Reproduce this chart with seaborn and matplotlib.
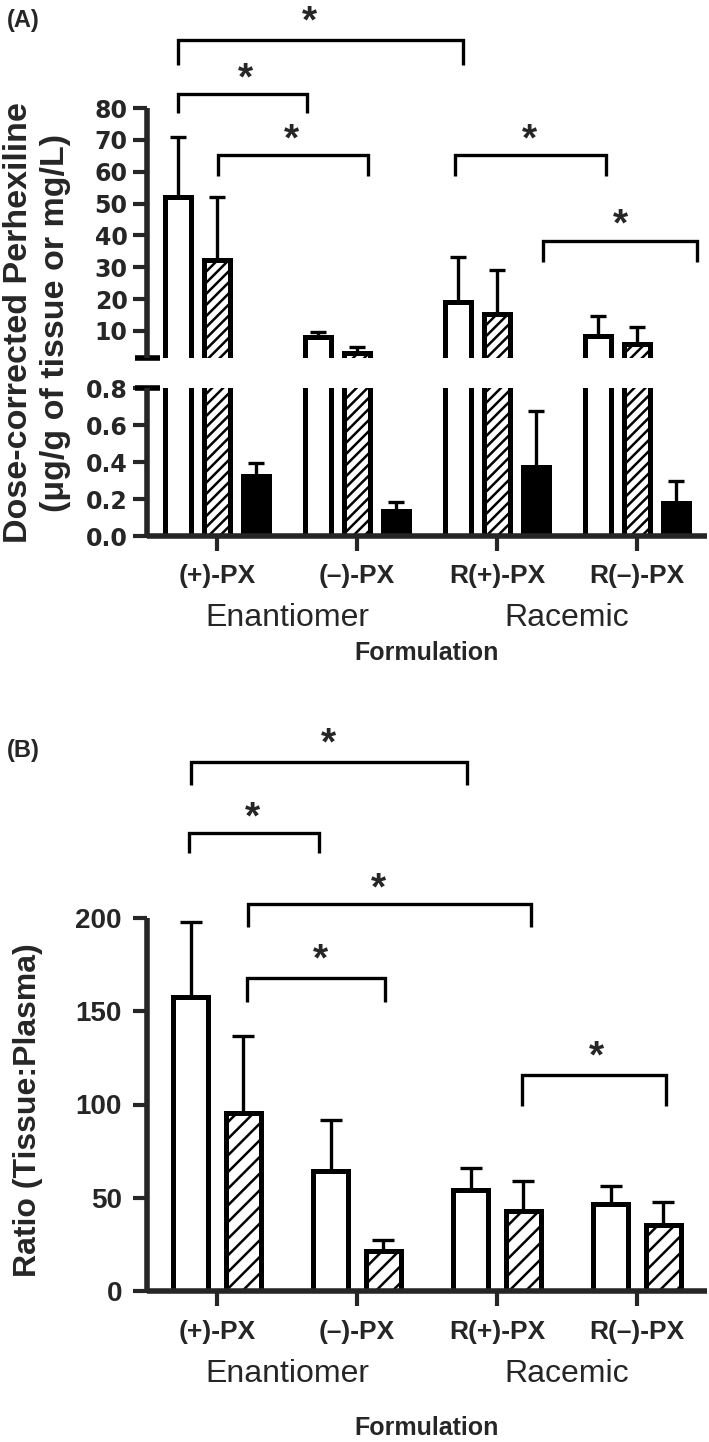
import numpy as np
import pandas as pd
import matplotlib
matplotlib.use("Agg")
import matplotlib.pyplot as plt
import matplotlib.transforms as mtransforms
import seaborn as sns

# ---------------- data ----------------
groups = ["(+)-PX", "(\u2013)-PX", "R(+)-PX", "R(\u2013)-PX"]
formulations = ["Enantiomer", "Racemic"]
series_a = ["Tissue 1", "Tissue 2", "Plasma"]
series_b = ["Tissue 1", "Tissue 2"]

# Panel A: dose-corrected perhexiline (mean, upper SD)
a_t1_mean = [52.1, 8.2, 19.1, 8.3]
a_t1_sd = [18.8, 1.6, 14.2, 6.4]
a_t2_mean = [32.3, 3.0, 15.2, 5.9]
a_t2_sd = [19.8, 1.9, 13.8, 5.3]
a_pl_mean = [0.324, 0.135, 0.373, 0.178]
a_pl_sd = [0.071, 0.049, 0.303, 0.119]

# Panel B: tissue:plasma ratio
b_t1_mean = [157.6, 64.3, 54.2, 46.6]
b_t1_sd = [40.4, 27.4, 11.8, 9.7]
b_t2_mean = [95.4, 21.4, 42.9, 35.4]
b_t2_sd = [41.3, 5.9, 16.1, 12.3]

a_top_ticks = [10, 20, 30, 40, 50, 60, 70, 80]
a_low_ticks = [0.0, 0.2, 0.4, 0.6, 0.8]
a_low_labels = ["0.0", "0.2", "0.4", "0.6", "0.8"]
b_ticks = [0, 50, 100, 150, 200]

# significance brackets: (x_left, x_right, y_bar, y_leg_end, x_star, y_star)
a_brackets = [
    (-0.279, 1.757, 101.5, 93.6, 0.664, 110.9),
    (-0.279, 0.643, 84.3, 78.3, 0.200, 93.0),
    (0.007, 1.076, 65.3, 58.8, 0.533, 73.8),
    (1.700, 2.781, 65.3, 58.8, 2.231, 73.8),
    (2.327, 3.426, 38.2, 31.7, 2.879, 47.0),
]
b_brackets = [
    (-0.186, 1.788, 283.6, 271.3, 0.793, 299.7),
    (-0.200, 0.729, 245.6, 234.9, 0.250, 260.1),
    (0.221, 2.243, 207.5, 195.2, 1.150, 222.0),
    (0.214, 1.200, 167.8, 155.0, 0.736, 183.9),
    (2.180, 3.207, 115.8, 99.2, 2.714, 131.9),
]

# ---------------- style ----------------
sns.set_style("ticks")
plt.rcParams["font.family"] = ["Liberation Sans", "DejaVu Sans"]
plt.rcParams["hatch.linewidth"] = 1.8
plt.rcParams["hatch.color"] = "black"

EDGE_LW = 3.6
SPINE_LW = 4.0
ERR_LW = 2.4
BR_LW = 2.4
STAR_FS = 28

W, H = 709, 1442
fig = plt.figure(figsize=(W / 100, H / 100), dpi=100)


def fax(left, top, right, bottom):
    return fig.add_axes([left / W, 1 - bottom / H, (right - left) / W, (bottom - top) / H])


ax_at = fax(147, 108, 707, 358)
ax_al = fax(147, 388, 707, 536)
ax_b = fax(147, 918, 707, 1291)

df_a = pd.DataFrame({
    "Formulation": groups * 3,
    "Series": np.repeat(series_a, len(groups)),
    "Value": a_t1_mean + a_t2_mean + a_pl_mean,
})
df_b = pd.DataFrame({
    "Formulation": groups * 2,
    "Series": np.repeat(series_b, len(groups)),
    "Value": b_t1_mean + b_t2_mean,
})


def draw_bars(ax, df, hue_order, colors, hatches, width, gap):
    sns.barplot(data=df, x="Formulation", y="Value", hue="Series", order=groups,
                hue_order=hue_order, palette=colors, saturation=1,
                edgecolor="black", linewidth=EDGE_LW, width=width, gap=gap,
                errorbar=None, legend=False, ax=ax)
    for cont, h in zip(ax.containers, hatches):
        for p in cont:
            p.set_hatch(h)
            p.set_edgecolor("black")
            p.set_joinstyle("miter")


def draw_err(ax, cont, sd, capsize):
    xs = [p.get_x() + p.get_width() / 2 for p in cont]
    ys = [p.get_height() for p in cont]
    ax.errorbar(xs, ys, yerr=[np.zeros(len(sd)), sd], fmt="none", ecolor="black",
                elinewidth=ERR_LW, capsize=capsize, capthick=ERR_LW, zorder=3)


def draw_brackets(ax, brackets):
    for x1, x2, yh, yl, xs, ys in brackets:
        ax.plot([x1, x1, x2, x2], [yl, yh, yh, yl], color="black", lw=BR_LW,
                clip_on=False, solid_joinstyle="miter", solid_capstyle="butt", zorder=4)
        ax.annotate("*", xy=(xs, ys), xytext=(0, -0.58 * STAR_FS), textcoords="offset points",
                    ha="center", va="baseline", fontsize=STAR_FS, fontweight="bold",
                    annotation_clip=False)


colors_a = ["white", "white", "black"]
hatches_a = ["", "///", ""]
for ax in (ax_at, ax_al):
    draw_bars(ax, df_a, series_a, colors_a, hatches_a, width=0.834, gap=0.35)
    ax.set_xlim(-0.5, 3.5)
    ax.set_xlabel("")
    ax.set_ylabel("")
    for s in ("top", "right"):
        ax.spines[s].set_visible(False)
    for s in ("left", "bottom"):
        ax.spines[s].set_linewidth(SPINE_LW)
        ax.spines[s].set_capstyle("butt")

# top segment
ax_at.set_ylim(1.5, 80)
ax_at.spines["bottom"].set_visible(False)
ax_at.set_xticks([])
ax_at.set_yticks(a_top_ticks)
ax_at.set_yticklabels([str(t) for t in a_top_ticks], fontsize=17, fontweight="bold",
                      family="DejaVu Sans")
ax_at.tick_params(axis="y", length=10, width=3, pad=4)
draw_err(ax_at, ax_at.containers[0], a_t1_sd, 6)
draw_err(ax_at, ax_at.containers[1], a_t2_sd, 6)
draw_brackets(ax_at, a_brackets)
ax_at.plot([-12 / 560, 13 / 560], [0, 0], transform=ax_at.transAxes, color="black",
           lw=SPINE_LW, clip_on=False, solid_capstyle="butt")

# bottom segment
ax_al.set_ylim(0, 0.8)
ax_al.set_yticks(a_low_ticks)
ax_al.set_yticklabels(a_low_labels, fontsize=17, fontweight="bold", family="DejaVu Sans")
ax_al.tick_params(axis="y", length=10, width=3, pad=4)
ax_al.set_xticks(range(len(groups)))
ax_al.set_xticklabels(groups, fontsize=19, fontweight="bold")
ax_al.tick_params(axis="x", length=11, width=3, pad=9)
draw_err(ax_al, ax_al.containers[2], a_pl_sd, 6)
ax_al.plot([-12 / 560, 13 / 560], [1, 1], transform=ax_al.transAxes, color="black",
           lw=SPINE_LW, clip_on=False, solid_capstyle="butt")

# panel B
draw_bars(ax_b, df_b, series_b, ["white", "white"], ["", "//"], width=0.757, gap=0.34)
ax_b.set_xlim(-0.5, 3.5)
ax_b.set_ylim(0, 200)
for s in ("top", "right"):
    ax_b.spines[s].set_visible(False)
for s in ("left", "bottom"):
    ax_b.spines[s].set_linewidth(SPINE_LW)
    ax_b.spines[s].set_capstyle("butt")
ax_b.set_yticks(b_ticks)
ax_b.set_yticklabels([str(t) for t in b_ticks], fontsize=20, fontweight="bold")
ax_b.tick_params(axis="y", length=10, width=3, pad=8)
ax_b.set_xticks(range(len(groups)))
ax_b.set_xticklabels(groups, fontsize=19, fontweight="bold")
ax_b.tick_params(axis="x", length=11, width=3, pad=10)
ax_b.set_ylabel("")
draw_err(ax_b, ax_b.containers[0], b_t1_sd, 8)
draw_err(ax_b, ax_b.containers[1], b_t2_sd, 8)
draw_brackets(ax_b, b_brackets)

# group labels and axis titles
for ax, y_grp, y_title in ((ax_al, 618, 653), (ax_b, 1374, 1428)):
    trans = mtransforms.blended_transform_factory(ax.transData, fig.transFigure)
    for i, name in enumerate(formulations):
        ax.text(2 * i + 0.5, 1 - y_grp / H, name, transform=trans, ha="center",
                va="center", fontsize=23)
    ax.set_xlabel("Formulation", fontsize=18, fontweight="bold")
    ax_h = ax.get_position().height * H
    ax_bottom_px = (1 - ax.get_position().y0) * H
    ax.xaxis.set_label_coords(0.5, -(y_title - ax_bottom_px) / ax_h)
    ax.xaxis.label.set_va("center")

fig.text(37 / W, 1 - 323 / H, "Dose-corrected Perhexiline\n(\u03bcg/g of tissue or mg/L)",
         rotation=90, ha="center", va="center", multialignment="center",
         fontsize=24.5, fontweight="bold", linespacing=1.25)
fig.text(28 / W, 1 - 1110 / H, "Ratio (Tissue:Plasma)", rotation=90, ha="center",
         va="center", fontsize=23, fontweight="bold")

fig.text(23 / W, 1 - 20 / H, "(A)", ha="center", va="center", fontsize=17, fontweight="bold")
fig.text(23 / W, 1 - 750 / H, "(B)", ha="center", va="center", fontsize=17, fontweight="bold")

fig.savefig("out.png", dpi=100, facecolor="white")
